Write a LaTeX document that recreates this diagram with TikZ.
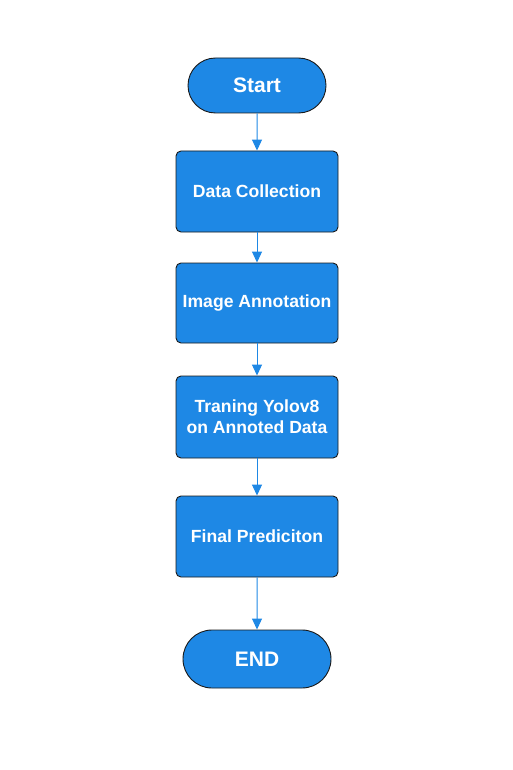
\documentclass[tikz,border=0pt]{standalone}
\usepackage{fontspec}
\setmainfont{Liberation Sans}
\usepackage{tikz}
\usetikzlibrary{arrows.meta,shapes.misc}
\usepackage{xcolor}
\definecolor{flowblue}{HTML}{1E88E5}
\definecolor{flowedge}{HTML}{1A1A1A}
\tikzset{arrowout/.style={-{Triangle[width=10pt,length=11pt]},draw=flowblue,line width=1pt},
  term/.style={rounded rectangle,draw=flowedge,fill=flowblue,line width=0.9pt,text=white,font=\fontsize{21}{24}\selectfont\bfseries,inner sep=0pt},
  box/.style={rectangle,rounded corners=5pt,draw=flowedge,fill=flowblue,line width=0.9pt,minimum width=162pt,minimum height=81pt,text=white,align=center,inner sep=0pt,font=\fontsize{17.6}{21}\selectfont\bfseries}}

\begin{document}
\begin{tikzpicture}[x=1pt,y=-1pt]
\useasboundingbox (0,0) rectangle (512,770);

\node (start) at (257,85.5)[term,minimum width=138pt,minimum height=55pt]{Start};
\node (data) at (257,191.5)[box]{Data Collection};
\node (annot) at (257,303)[box,minimum height=80pt]{Image Annotation};
\node (train) at (257,417)[box,minimum height=82pt]{Traning Yolov8\\on Annoted Data};
\node (pred) at (257,536.5)[box]{Final Prediciton};
\node (finish) at (257,659)[term,minimum width=148pt,minimum height=58pt]{END};

\draw[arrowout] (start) -- (data);
\draw[arrowout] (data) -- (annot);
\draw[arrowout] (annot) -- (train);
\draw[arrowout] (train) -- (pred);
\draw[arrowout] (pred) -- (finish);

\end{tikzpicture}
\end{document}
